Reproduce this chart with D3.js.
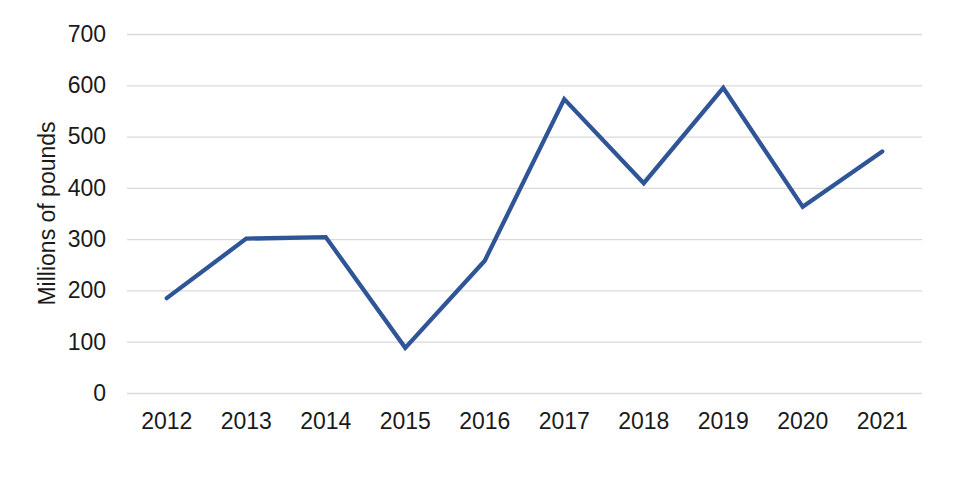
<!DOCTYPE html>
<html>
<head>
<meta charset="utf-8">
<script src="https://cdn.jsdelivr.net/npm/d3@7"></script>
<style>
  body { margin: 0; background: #fff; }
  svg text { font-family: "Liberation Sans", Arial, sans-serif; fill: #1a1a1a; }
</style>
</head>
<body>
<div id="chart"></div>
<script>
// data
const years = ['2012', '2013', '2014', '2015', '2016', '2017', '2018', '2019', '2020', '2021'];
const values = [185, 301, 304, 88, 258, 573, 409, 595, 363, 471];
const yTicks = [0, 100, 200, 300, 400, 500, 600, 700];

let margin = { top: 34, right: 38, bottom: 87, left: 127 },
    width = 960 - margin.left - margin.right,
    height = 480 - margin.top - margin.bottom;

let svg = d3.select("#chart")
    .append("svg")
    .attr("width", 960)
    .attr("height", 480)
    .append("g")
    .attr("transform", "translate(" + margin.left + "," + margin.top + ")");

const x = d3.scaleBand()
    .domain(years)
    .range([0, width]);

const y = d3.scaleLinear()
    .domain([0, 700])
    .range([height, 0]);

// gridlines
svg.append("g")
    .call(d3.axisLeft(y).tickValues(yTicks).tickSize(-width).tickFormat(""))
    .call(g => g.select(".domain").remove())
    .call(g => g.selectAll("line").attr("stroke", "#d9d9d9").attr("stroke-width", 1.3));

// y axis labels
svg.append("g")
    .call(d3.axisLeft(y).tickValues(yTicks).tickSize(0).tickPadding(21))
    .call(g => g.select(".domain").remove())
    .selectAll("text")
    .style("font-size", "23px")
    .attr("fill", "#1a1a1a");

// x axis labels
svg.append("g")
    .attr("transform", "translate(0," + height + ")")
    .call(d3.axisBottom(x).tickSize(0).tickPadding(20))
    .call(g => g.select(".domain").remove())
    .selectAll("text")
    .style("font-size", "23px")
    .attr("fill", "#1a1a1a");

// axis title
svg.append("text")
    .attr("transform", "rotate(-90)")
    .attr("x", -height / 2)
    .attr("y", -80)
    .attr("dy", "0.35em")
    .attr("text-anchor", "middle")
    .style("font-size", "23px")
    .text("Millions of pounds");

const line = d3.line()
    .x((d, i) => x(years[i]) + x.bandwidth() / 2)
    .y(d => y(d));

svg.append("path")
    .datum(values)
    .attr("fill", "none")
    .attr("stroke", "#2f5597")
    .attr("stroke-width", 4.3)
    .attr("stroke-linejoin", "miter")
    .attr("stroke-linecap", "round")
    .attr("d", line);
</script>
</body>
</html>
